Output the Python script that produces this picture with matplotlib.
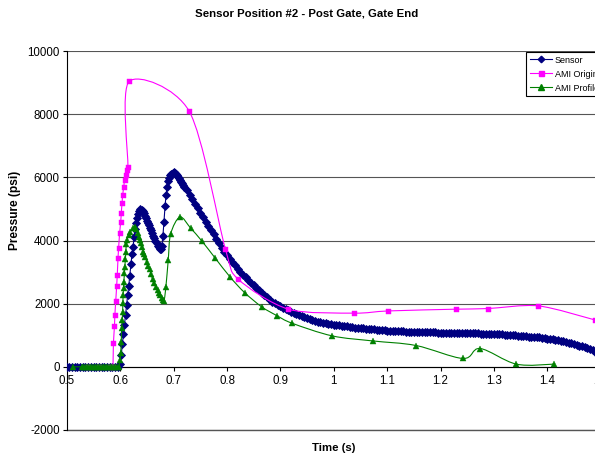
import numpy as np
import matplotlib
matplotlib.use("Agg")
import matplotlib.pyplot as plt
from matplotlib.path import Path
from matplotlib.patches import PathPatch
from matplotlib.lines import Line2D

plt.rcParams["font.family"] = ["Liberation Sans", "DejaVu Sans"]

# ── Data ─────────────────────────────────────────────────────────────────────
# Sensor: sampled every 5 ms before the rise and in the tail, every 2 ms around the peaks
sensor_t = np.round(np.concatenate([
    np.arange(0.500, 0.5999, 0.005),
    np.arange(0.600, 0.7199, 0.002),
    np.arange(0.720, 1.4926, 0.005),
]), 4)
sensor_p = (
    [0] * 20
    + [100, 380, 720, 1030, 1330, 1650, 1950, 2290, 2560, 2890,
       3250, 3560, 3800, 4100, 4370, 4560, 4720, 4830, 4930, 4990,
       4970, 4920, 4860, 4790, 4710, 4630, 4560, 4480, 4400, 4320,
       4230, 4150, 4070, 3990, 3910, 3840, 3780, 3730, 3720, 3830,
       4150, 4600, 5100, 5450, 5700, 5880, 5990, 6070, 6120, 6150,
       6160, 6140, 6110, 6070, 6020, 5970, 5920, 5860, 5810, 5750]
    + [5700, 5590, 5450, 5310, 5160, 5020, 4880, 4740, 4600, 4470,
       4330, 4190, 4040, 3910, 3770, 3650, 3530, 3420, 3310, 3210,
       3110, 3010, 2920, 2830, 2750, 2660, 2580, 2500, 2420, 2340,
       2270, 2200, 2130, 2060, 2010, 1960, 1920, 1870, 1830, 1790,
       1750, 1710, 1670, 1640, 1600, 1570, 1540, 1510, 1480, 1460,
       1430, 1410, 1390, 1375, 1360, 1345, 1335, 1325, 1315, 1300,
       1290, 1280, 1265, 1255, 1245, 1235, 1225, 1215, 1205, 1200,
       1190, 1185, 1175, 1170, 1160, 1155, 1150, 1145, 1140, 1135,
       1130, 1125, 1120, 1115, 1110, 1105, 1105, 1100, 1100, 1095,
       1095, 1095, 1090, 1090, 1090, 1085, 1085, 1085, 1085, 1080,
       1080, 1080, 1080, 1075, 1075, 1070, 1070, 1065, 1065, 1060,
       1060, 1055, 1055, 1050, 1045, 1040, 1040, 1035, 1030, 1025,
       1020, 1015, 1010, 1005, 1000, 990, 985, 980, 970, 960,
       955, 945, 940, 930, 920, 905, 895, 880, 870, 855,
       840, 825, 810, 790, 770, 750, 725, 700, 675, 650,
       620, 590, 555, 520, 480]
)

orig_t = [0.540, 0.560, 0.580, 0.586, 0.5874, 0.5893, 0.5900, 0.5916, 0.5934,
          0.5945, 0.5959, 0.5970, 0.5990, 0.6010, 0.6020, 0.6034, 0.6047,
          0.6066, 0.6084, 0.6105, 0.6125, 0.6145, 0.6170, 0.7290, 0.7970,
          0.8210, 0.9150, 1.0380, 1.1020, 1.2280, 1.2880, 1.3830, 1.4900]
orig_p = [0, 0, 0, 0, 770, 1300, 1635, 2070, 2570,
          2910, 3440, 3755, 4250, 4600, 4860, 5180, 5440,
          5700, 5920, 6080, 6220, 6330, 9040, 8100, 3730,
          2775, 1825, 1700, 1770, 1825, 1845, 1930, 1480]

prof_t = [0.512, 0.528, 0.531, 0.534, 0.537, 0.540, 0.543, 0.546, 0.549,
          0.552, 0.555, 0.558, 0.561, 0.564, 0.567, 0.570, 0.573, 0.576,
          0.579, 0.582, 0.585, 0.588, 0.591, 0.594, 0.597,
          0.5996, 0.6008, 0.6020, 0.6027, 0.6038, 0.6045, 0.6050, 0.6055,
          0.6062, 0.6068, 0.6080, 0.6086, 0.6098, 0.6104, 0.6117, 0.6129,
          0.6160, 0.6190, 0.6240, 0.6277,
          0.6300, 0.6325, 0.6350, 0.6370, 0.6390, 0.6410, 0.6435, 0.6455,
          0.6470, 0.6495, 0.6525, 0.6550, 0.6575, 0.6605, 0.6640, 0.6670,
          0.6700, 0.6725, 0.6750, 0.6780, 0.6805, 0.6820,
          0.6855, 0.6900, 0.6945, 0.7120, 0.7320, 0.7526, 0.7780, 0.8060,
          0.8330, 0.8650, 0.8930, 0.9220, 0.9970, 1.0730, 1.1540, 1.2420,
          1.2740, 1.3420, 1.4120]
prof_p = [0] * 25 + [
          220, 430, 800, 1225, 1490, 1750, 2015, 2280,
          2490, 2700, 2965, 3175, 3410, 3650, 3890, 4020,
          4180, 4280, 4390, 4440,
          4360, 4230, 4120, 4020, 3920, 3810, 3650, 3570,
          3490, 3330, 3200, 3100, 2950, 2780, 2650, 2540,
          2440, 2350, 2270, 2180, 2110, 2070,
          2520, 3390, 4210, 4740, 4390, 3990, 3440, 2840,
          2350, 1900, 1625, 1380, 980, 820, 675, 265,
          580, 85, 85]

x_ticks = [0.5, 0.6, 0.7, 0.8, 0.9, 1.0, 1.1, 1.2, 1.3, 1.4, 1.5]
y_ticks = [-2000, 0, 2000, 4000, 6000, 8000, 10000]

NAVY = "#000080"
MAGENTA = "#FF00FF"
GREEN = "#008000"
GRID = "#555555"


def smooth_line(ax, x, y, color, z, k=6.0):
    # Excel-style smoothed line: Catmull-Rom segments as cubic Beziers
    pts = np.column_stack([x, y]).astype(float)
    n = len(pts)
    verts = [pts[0]]
    codes = [Path.MOVETO]
    for i in range(n - 1):
        p0 = pts[max(i - 1, 0)]
        p1 = pts[i]
        p2 = pts[i + 1]
        p3 = pts[min(i + 2, n - 1)]
        verts += [p1 + (p2 - p0) / k, p2 - (p3 - p1) / k, p2]
        codes += [Path.CURVE4] * 3
    ax.add_patch(PathPatch(Path(verts, codes), fill=False, edgecolor=color,
                           lw=0.8, zorder=z))


W, H = 595, 462
fig = plt.figure(figsize=(W / 100, H / 100), dpi=100, facecolor="white")
ax = fig.add_axes([66.8 / W, 32 / H, 534 / W, 379 / H])

ax.plot(sensor_t, sensor_p, color=NAVY, lw=0.8, marker="D", ms=3.9,
        mec=NAVY, mew=0.6, zorder=3)

smooth_line(ax, orig_t, orig_p, MAGENTA, 4, k=7.0)
ax.plot(orig_t, orig_p, ls="none", marker="s", ms=3.6, color=MAGENTA,
        mec=MAGENTA, mew=0.3, zorder=4)

smooth_line(ax, prof_t, prof_p, GREEN, 5)
ax.plot(prof_t, prof_p, ls="none", marker="^", ms=4, color=GREEN,
        mec=GREEN, mew=0.3, zorder=5)

ax.set_xlim(0.5, 1.5)
ax.set_ylim(-2000, 10000)
ax.set_xticks(x_ticks)
ax.set_xticklabels([f"{v:g}" for v in x_ticks])
ax.set_yticks(y_ticks)
ax.set_yticklabels([str(v) for v in y_ticks])

ax.spines[["top", "right"]].set_visible(False)
ax.spines["bottom"].set_position(("data", 0))
ax.spines["bottom"].set_color("black")
ax.spines["left"].set_color("black")
ax.spines["bottom"].set_linewidth(0.8)
ax.spines["left"].set_linewidth(0.8)
ax.spines["bottom"].set_zorder(2)

ax.yaxis.grid(True, color=GRID, lw=0.8)
ax.set_axisbelow(True)
# plot-area border at the bottom (-2000)
ax.axhline(-2000, color=GRID, lw=1.0, clip_on=False, zorder=1)
ax.tick_params(axis="both", direction="out", length=3, width=0.8,
               labelsize=8.3, colors="black")
ax.tick_params(axis="x", pad=3)
ax.tick_params(axis="y", pad=2)

fig.text(307 / W, 1 - 14 / H, "Sensor Position #2 - Post Gate, Gate End",
         ha="center", va="center", fontsize=8.2, fontweight="bold")
fig.text(15 / W, 1 - 210 / H, "Pressure (psi)", rotation=90,
         ha="center", va="center", fontsize=8.6, fontweight="bold")
fig.text(334 / W, 1 - 448 / H, "Time (s)",
         ha="center", va="center", fontsize=8.2, fontweight="bold")

handles = [
    Line2D([], [], color=NAVY, lw=0.8, marker="D", ms=3.3, mec=NAVY),
    Line2D([], [], color=MAGENTA, lw=0.8, marker="s", ms=3.6, mec=MAGENTA),
    Line2D([], [], color=GREEN, lw=0.8, marker="^", ms=4, mec=GREEN),
]
leg = fig.legend(handles, ["Sensor", "AMI Original", "AMI Profiled"],
                 loc="upper left", bbox_to_anchor=(526 / W, 1 - 52 / H),
                 fontsize=6.5, frameon=True, fancybox=False, framealpha=1,
                 edgecolor="black", borderpad=0.4, labelspacing=0.55,
                 handlelength=2.5, handletextpad=0.3, borderaxespad=0)
leg.get_frame().set_linewidth(0.8)

fig.savefig("out.png", dpi=100)
